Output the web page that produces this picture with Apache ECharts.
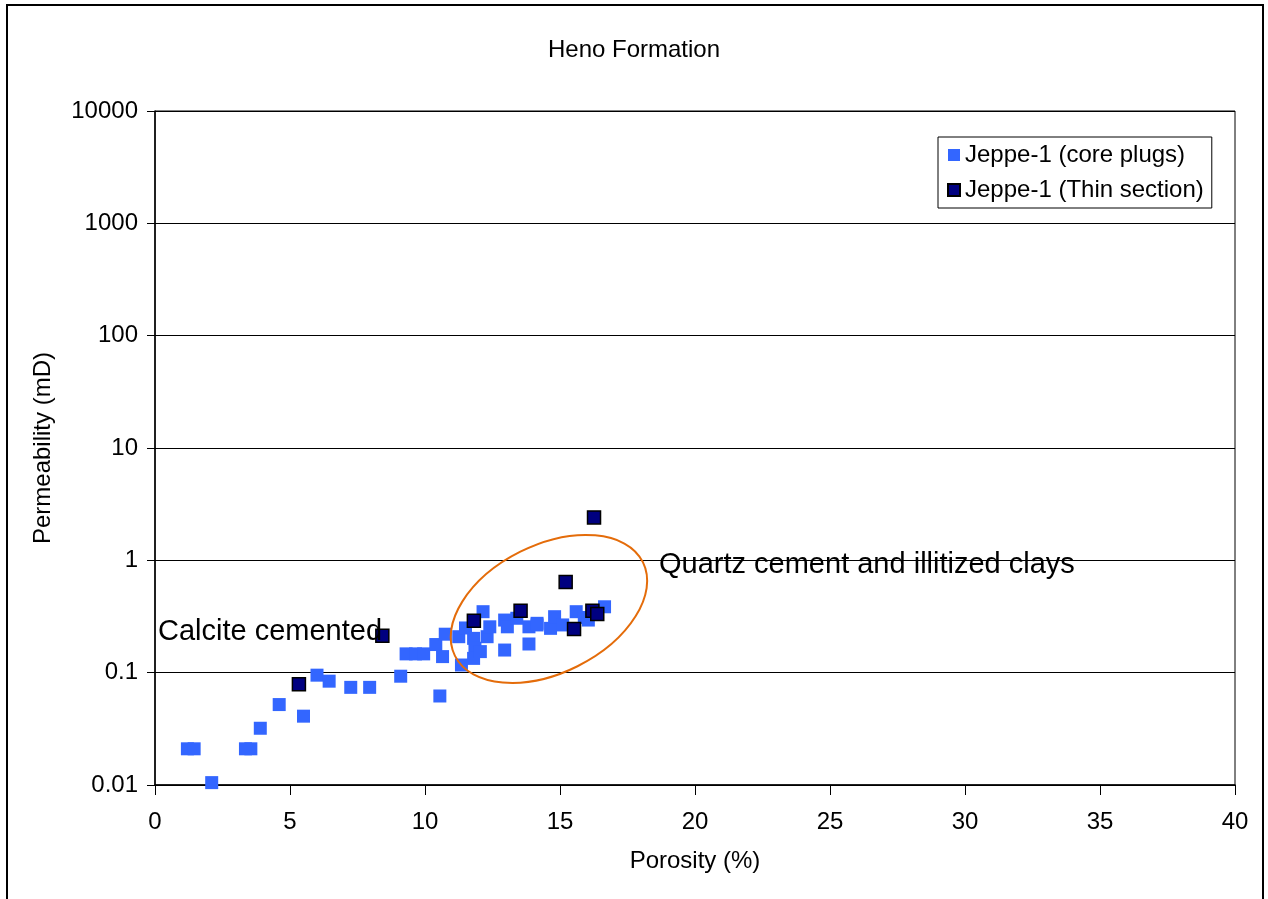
<!DOCTYPE html>
<html>
<head>
<meta charset="utf-8">
<script src="https://cdn.jsdelivr.net/npm/echarts@6/dist/echarts.min.js"></script>
<style>
  html, body { margin: 0; padding: 0; background: #fff; }
  #main { width: 1268px; height: 899px; }
</style>
</head>
<body>
<div id="main"></div>
<script>
// porosity (%), permeability (mD)
var corePlugs = [
  [1.2, 0.021], [1.45, 0.021], [2.1, 0.0105], [3.35, 0.021], [3.55, 0.021],
  [3.9, 0.032], [4.6, 0.052], [5.5, 0.041], [6.0, 0.095], [6.45, 0.084],
  [7.25, 0.074], [7.95, 0.074], [9.1, 0.093], [9.3, 0.147], [9.65, 0.147],
  [9.95, 0.147], [10.4, 0.178], [10.55, 0.062], [10.65, 0.139], [10.75, 0.22],
  [11.25, 0.209], [11.35, 0.117], [11.5, 0.25], [11.8, 0.202], [11.85, 0.165],
  [11.8, 0.134], [12.05, 0.154], [12.15, 0.349], [12.3, 0.209], [12.4, 0.256],
  [12.95, 0.159], [12.95, 0.294], [13.05, 0.256], [13.4, 0.305], [13.85, 0.256],
  [13.85, 0.18], [14.15, 0.275], [14.15, 0.266], [14.65, 0.248], [14.8, 0.315],
  [15.1, 0.266], [15.6, 0.349], [15.9, 0.31], [16.05, 0.294], [16.65, 0.386]
];
var thinSection = [
  [5.33, 0.079], [8.42, 0.213], [11.81, 0.29], [13.54, 0.356], [15.21, 0.64],
  [16.26, 2.41], [15.52, 0.245], [16.2, 0.356], [16.38, 0.333]
];
var yTicks = [0.01, 0.1, 1, 10, 100, 1000, 10000];
var seriesNames = ['Jeppe-1 (core plugs)', 'Jeppe-1 (Thin section)'];
var titleText = 'Heno Formation';
var xName = 'Porosity (%)';
var yName = 'Permeability (mD)';
// ellipse centre in data units
var ellipseCentre = [14.59, 0.369];

var font = 'Liberation Sans, Arial, sans-serif';
var fs = 24;
var chart = echarts.init(document.getElementById('main'));

var option = {
  animation: false,
  backgroundColor: '#fff',
  title: {
    text: titleText, left: 'center', top: 33,
    textStyle: { fontFamily: font, fontSize: fs, fontWeight: 'normal', color: '#000' }
  },
  legend: {
    orient: 'vertical', left: 938, top: 137,
    padding: [6, 8, 6, 9], itemGap: 11,
    itemWidth: 12, itemHeight: 12,
    borderColor: '#000', borderWidth: 1,
    textStyle: { fontFamily: font, fontSize: fs, lineHeight: 24, color: '#000', padding: [0, 0, 0, 0] },
    data: [
      { name: seriesNames[0], icon: 'rect' },
      { name: seriesNames[1], icon: 'rect' }
    ]
  },
  grid: {
    left: 155, right: 33, top: 111, bottom: 114,
    show: true, borderColor: '#000', borderWidth: 1
  },
  xAxis: {
    type: 'value', min: 0, max: 40, interval: 5,
    name: xName, nameLocation: 'middle', nameGap: 64,
    nameTextStyle: { fontFamily: font, fontSize: fs, color: '#000' },
    axisLine: { onZero: false, lineStyle: { color: '#000', width: 1.5 } },
    axisTick: { show: true, inside: false, length: 10, lineStyle: { color: '#000' } },
    axisLabel: { fontFamily: font, fontSize: fs, color: '#000', margin: 25 },
    splitLine: { show: false }
  },
  yAxis: {
    type: 'log', logBase: 10, min: 0.01, max: 10000,
    name: yName, nameLocation: 'middle', nameGap: 100, nameRotate: 90,
    nameTextStyle: { fontFamily: font, fontSize: fs, color: '#000' },
    axisLine: { lineStyle: { color: '#000', width: 1.5 } },
    axisTick: { show: true, inside: false, length: 8, lineStyle: { color: '#000' } },
    axisLabel: {
      fontFamily: font, fontSize: fs, color: '#000', margin: 17,
      formatter: function (v) {
        for (var i = 0; i < yTicks.length; i++) {
          if (Math.abs(Math.log10(v) - Math.log10(yTicks[i])) < 1e-6) return String(yTicks[i]);
        }
        return '';
      }
    },
    splitLine: { show: true, lineStyle: { color: '#000', width: 1 } }
  },
  series: [
    {
      name: seriesNames[0], type: 'scatter', symbol: 'rect', symbolSize: 13,
      itemStyle: { color: '#3366FF', opacity: 1 },
      data: corePlugs, z: 2
    },
    {
      name: seriesNames[1], type: 'scatter', symbol: 'rect', symbolSize: 13,
      itemStyle: { color: '#000080', borderColor: '#000', borderWidth: 1.5, opacity: 1 },
      data: thinSection, z: 3
    }
  ]
};
chart.setOption(option);

var c = chart.convertToPixel({ gridIndex: 0 }, ellipseCentre);
chart.setOption({
  graphic: [
    {
      type: 'rect', x: 7, y: 5, silent: true,
      shape: { width: 1256, height: 920 },
      style: { fill: 'none', stroke: '#000', lineWidth: 2 }
    },
    {
      type: 'ellipse', x: c[0], y: c[1], rotation: 26.5 * Math.PI / 180,
      shape: { cx: 0, cy: 0, rx: 105, ry: 64 },
      style: { fill: 'none', stroke: '#E46C0A', lineWidth: 2 }, z: 10
    },
    {
      type: 'text', x: 158, y: 632, z: 11,
      style: { text: 'Calcite cemented', font: '29px ' + font, fill: '#000', verticalAlign: 'middle' }
    },
    {
      type: 'text', x: 659, y: 565, z: 11,
      style: { text: 'Quartz cement and illitized clays', font: '29px ' + font, fill: '#000', verticalAlign: 'middle' }
    }
  ]
});
</script>
</body>
</html>
